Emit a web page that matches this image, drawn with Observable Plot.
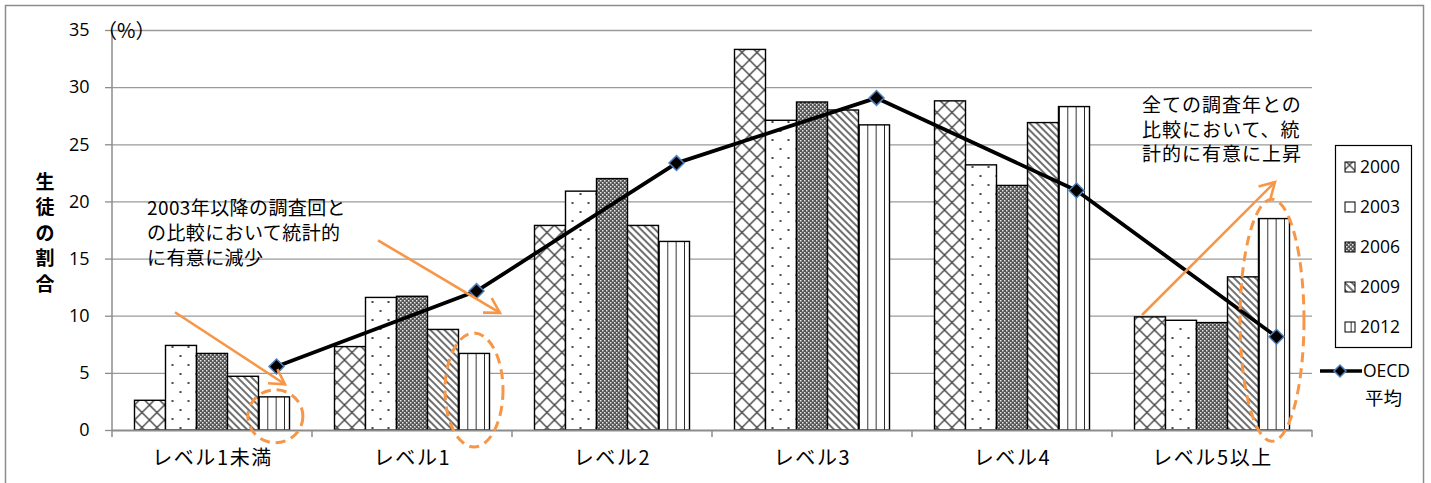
<!DOCTYPE html>
<html><head><meta charset="utf-8">
<script src="https://cdn.jsdelivr.net/npm/d3@7"></script>
<script src="https://cdn.jsdelivr.net/npm/@observablehq/plot@0.6"></script>
<style>
body{margin:0;background:#fff;}
#chart svg{display:block;}
</style></head>
<body><div id="chart"></div>
<script>
const categories = ["レベル1未満","レベル1","レベル2","レベル3","レベル4","レベル5以上"];
const years = ["2000","2003","2006","2009","2012"];
const v2000 = [2.6, 7.3, 17.9, 33.3, 28.8, 9.9];
const v2003 = [7.4, 11.6, 20.9, 27.1, 23.2, 9.6];
const v2006 = [6.7, 11.7, 22.0, 28.7, 21.4, 9.4];
const v2009 = [4.7, 8.8, 17.9, 28.0, 26.9, 13.4];
const v2012 = [2.9, 6.7, 16.5, 26.7, 28.3, 18.5];
const oecdAvg = [5.6, 12.2, 23.4, 29.1, 21.0, 8.2];
const yTicks = [0, 5, 10, 15, 20, 25, 30, 35];
const yTitle = "生徒の割合";
const unitLabel = "（%）";
const oecdLabel = ["OECD", "平均"];
const noteDecrease = ["2003年以降の調査回と", "の比較において統計的", "に有意に減少"];
const noteIncrease = ["全ての調査年との", "比較において、統", "計的に有意に上昇"];

const series = [v2000, v2003, v2006, v2009, v2012];
const table = [];
years.forEach((yr, j) => categories.forEach((c, i) => table.push({cat: c, year: yr, value: series[j][i]})));
const oecdRows = categories.map((c, i) => ({cat: c, value: oecdAvg[i]}));

const W = 1431, H = 483;
const mL = 112, mR = 119, mT = 30, mB = 53;
const bw = (W - mL - mR) / categories.length;   // band width
const barW = 31, groupPad = (bw - barW * years.length) / 2;
const ORANGE = "#F79646";
const FONT = "'Noto Sans CJK JP', 'Noto Sans', sans-serif";
const NUMFONT = "'Open Sans', 'Noto Sans', sans-serif";

const diamond = {draw(ctx, size) { const r = Math.sqrt(size) * 0.62; ctx.moveTo(0,-r); ctx.lineTo(r,0); ctx.lineTo(0,r); ctx.lineTo(-r,0); ctx.closePath(); }};

const marks = [
  Plot.ruleY(yTicks.filter(t => t > 0), {stroke: "#9a9a9a", strokeWidth: 1.3})
];
years.forEach((yr, j) => {
  marks.push(Plot.barY(table.filter(d => d.year === yr), {
    x: "cat", y: "value", fill: `url(#pat${j})`, stroke: "black", strokeWidth: 1.4,
    insetLeft: groupPad + barW * j, insetRight: bw - groupPad - barW * (j + 1)
  }));
});
marks.push(Plot.ruleY([0], {stroke: "#8c8c8c", strokeWidth: 2}));
marks.push(Plot.line(oecdRows, {x: "cat", y: "value", dx: 64, stroke: "black", strokeWidth: 3.8}));
marks.push(Plot.dot(oecdRows, {x: "cat", y: "value", dx: 64, symbol: diamond, r: 6.8, fill: "black", stroke: "#4F81BD", strokeWidth: 1.5}));

const plot = Plot.plot({
  width: W, height: H,
  marginLeft: mL, marginRight: mR, marginTop: mT, marginBottom: mB,
  style: {fontFamily: FONT, fontSize: "16px", color: "black", background: "white", overflow: "visible"},
  x: {domain: categories, padding: 0, label: null, tickSize: 0, tickPadding: 20},
  y: {domain: [0, 35], ticks: yTicks, tickSize: 7, tickPadding: 16, label: null},
  marks
});
document.getElementById("chart").appendChild(plot);

const svg = d3.select(plot);
const xs = plot.scale("x"), ys = plot.scale("y");
const X = (i, f) => xs.apply(categories[i]) + f * bw;
const Y = v => ys.apply(v);

// patterns
const defs = svg.insert("defs", ":first-child");
const bx0 = X(0, 0) + groupPad;
let p = defs.append("pattern").attr("id","pat0").attr("patternUnits","userSpaceOnUse").attr("width",15).attr("height",15).attr("x", bx0);
p.append("rect").attr("width",15).attr("height",15).attr("fill","white");
p.append("path").attr("d","M0,0L15,15M15,0L0,15M-1,14L1,16M14,-1L16,1").attr("stroke","#444").attr("stroke-width",1.4);
p = defs.append("pattern").attr("id","pat1").attr("patternUnits","userSpaceOnUse").attr("width",16).attr("height",18).attr("x", bx0 + barW);
p.append("rect").attr("width",16).attr("height",18).attr("fill","white");
p.append("circle").attr("cx",7).attr("cy",5).attr("r",1.1).attr("fill","#222");
p.append("circle").attr("cx",15).attr("cy",14).attr("r",1.1).attr("fill","#222");
p = defs.append("pattern").attr("id","pat2").attr("patternUnits","userSpaceOnUse").attr("width",4).attr("height",4);
p.append("rect").attr("width",4).attr("height",4).attr("fill","#555");
p.append("rect").attr("width",1.5).attr("height",1.5).attr("fill","#e8e8e8");
p.append("rect").attr("x",2).attr("y",2).attr("width",1.5).attr("height",1.5).attr("fill","#e8e8e8");
p = defs.append("pattern").attr("id","pat3").attr("patternUnits","userSpaceOnUse").attr("width",5).attr("height",10).attr("patternTransform","rotate(-45)");
p.append("rect").attr("width",5).attr("height",10).attr("fill","white");
p.append("line").attr("x1",1).attr("x2",1).attr("y1",0).attr("y2",10).attr("stroke","#333").attr("stroke-width",1.4);
p = defs.append("pattern").attr("id","pat4").attr("patternUnits","userSpaceOnUse").attr("width",bw/24).attr("height",10).attr("x", bx0 + 4*barW + 0.5);
p.append("rect").attr("width",bw/24).attr("height",10).attr("fill","white");
p.append("line").attr("x1",0).attr("x2",0).attr("y1",0).attr("y2",10).attr("stroke","black").attr("stroke-width",1.6);

// axis styling
svg.selectAll('[aria-label="y-axis tick"]').attr("stroke","#8c8c8c").attr("stroke-width",1.3);
svg.selectAll('[aria-label="y-axis tick label"]').style("font-size","18px").style("font-family", NUMFONT);
svg.selectAll('[aria-label="x-axis tick label"]').style("font-size","20px").style("letter-spacing","1.6px");

const g = svg.append("g").attr("text-anchor","start");
g.append("rect").attr("x",5.5).attr("y",5.5).attr("width",1418).attr("height",520).attr("fill","none").attr("stroke","#8c8c8c").attr("stroke-width",1.5);
g.append("line").attr("x1",X(0,0)).attr("x2",X(0,0)).attr("y1",Y(35)).attr("y2",Y(0)).attr("stroke","#8c8c8c").attr("stroke-width",1.5);
for (let i = 0; i <= categories.length; i++) {
  const xx = i < categories.length ? X(i, 0) : X(categories.length - 1, 1);
  g.append("line").attr("x1",xx).attr("x2",xx).attr("y1",Y(0)).attr("y2",Y(0)+7).attr("stroke","#8c8c8c").attr("stroke-width",1.5);
}
g.append("text").attr("x", X(0,0) - 15).attr("y", Y(35) + 1).attr("dy","0.35em").attr("font-size",20).text(unitLabel);
[...yTitle].forEach((ch, k) => {
  g.append("text").attr("x",45).attr("y", 182 + k * 25.5).attr("dy","0.35em").attr("text-anchor","middle")
    .attr("font-size",19).attr("font-weight","bold").text(ch);
});

function arrow(x1,y1,x2,y2){
  g.append("line").attr("x1",x1).attr("y1",y1).attr("x2",x2).attr("y2",y2).attr("stroke",ORANGE).attr("stroke-width",2.6);
  const a = Math.atan2(y2-y1, x2-x1), L = 17;
  const pts = [a + 2.62, a - 2.62].map(t => [x2 + L*Math.cos(t), y2 + L*Math.sin(t)]);
  g.append("path").attr("d",`M${pts[0]}L${x2},${y2}L${pts[1]}`).attr("fill","none").attr("stroke",ORANGE).attr("stroke-width",2.6);
}
function ellipse(cx, cy, rx, ry){
  g.append("ellipse").attr("cx",cx).attr("cy",cy).attr("rx",rx).attr("ry",ry).attr("fill","none")
    .attr("stroke",ORANGE).attr("stroke-width",3).attr("stroke-dasharray","10,6");
}
noteDecrease.forEach((t, k) => g.append("text").attr("x", X(0,0.175)).attr("y", Y(19.4) + k*25).attr("dy","0.35em").attr("font-size",19).attr("letter-spacing","0.4px").text(t));
noteIncrease.forEach((t, k) => g.append("text").attr("x", X(5,0.15)).attr("y", Y(28.4) + k*24.5).attr("dy","0.35em").attr("font-size",19).attr("letter-spacing","1px").text(t));
arrow(X(0,0.315), Y(10.3), X(0,0.865), Y(4.0));
arrow(X(1,0.33), Y(16.6), X(1,0.94), Y(10.25));
arrow(X(5,0.15), Y(10.06), X(5,0.815), Y(21.7));
ellipse(X(0,0.817), Y(1.2), 27.5, 26.5);
ellipse(X(1,0.81), Y(3.5), 29, 57);
ellipse(X(5,0.8), Y(9.6), 32, 121);

const lg = svg.append("g").attr("text-anchor","start");
lg.append("rect").attr("x",1335.5).attr("y",145.5).attr("width",76).attr("height",202).attr("fill","white").attr("stroke","black").attr("stroke-width",1.2);
years.forEach((yr, j) => {
  const cy = 167 + j * 40;
  lg.append("rect").attr("x",1345).attr("y",cy-5).attr("width",10).attr("height",10).attr("fill",`url(#pat${j})`).attr("stroke","black").attr("stroke-width",1);
  lg.append("text").attr("x",1360).attr("y",cy).attr("dy","0.35em").attr("font-size",17.5).attr("font-family",NUMFONT).text(yr);
});
lg.append("line").attr("x1",1320).attr("x2",1362).attr("y1",371).attr("y2",371).attr("stroke","black").attr("stroke-width",3.5);
lg.append("path").attr("d","M1340,365L1346,371L1340,377L1334,371Z").attr("fill","black").attr("stroke","#4F81BD").attr("stroke-width",1.5);
lg.append("text").attr("x",1363).attr("y",371).attr("dy","0.35em").attr("font-size",17.5).attr("font-family",NUMFONT).text(oecdLabel[0]);
lg.append("text").attr("x",1365).attr("y",399).attr("dy","0.35em").attr("font-size",18.5).text(oecdLabel[1]);
</script>
</body></html>
